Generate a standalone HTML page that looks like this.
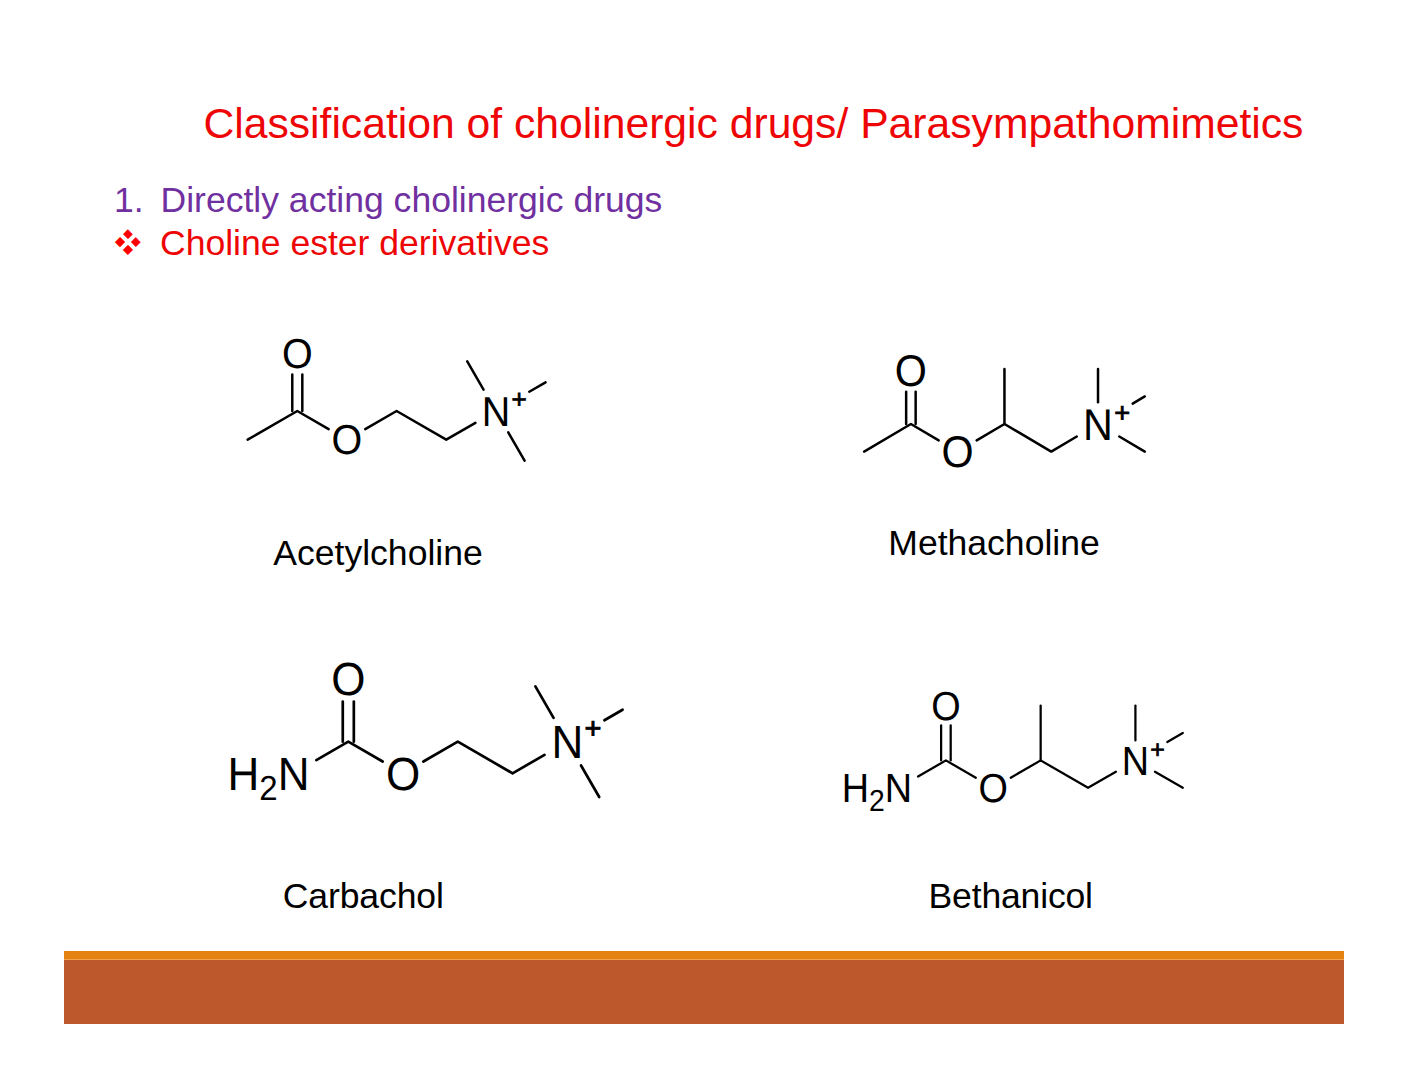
<!DOCTYPE html>
<html lang="en">
<head>
<meta charset="utf-8">
<title>Classification of cholinergic drugs/ Parasympathomimetics</title>
<style>
html,body{margin:0;padding:0;background:#fff;}
body{width:1408px;height:1088px;position:relative;overflow:hidden;font-family:"Liberation Sans",sans-serif;}
.slide{position:absolute;left:0;top:0;width:1408px;height:1088px;background:#fff;}
.t{position:absolute;white-space:pre;line-height:1;margin:0;font-weight:normal;}
.title{left:203.4px;top:102.3px;font-size:42.67px;color:#ee0505;}
.num{left:113.9px;top:183.3px;font-size:35.56px;color:#7030a0;}
.l1{left:160.5px;top:183.3px;font-size:35.56px;color:#7030a0;}
.l2{left:160px;top:226.2px;font-size:35.56px;color:#ee0505;}
.bul{left:111.9px;top:224.9px;font-size:35.3px;color:#f00;font-family:"DejaVu Sans",sans-serif;}
.cap{font-size:35.56px;color:#000;}
.gap{position:absolute;left:110.8px;top:239.7px;width:34px;height:4.2px;background:#fff;}
.gap.a{transform:rotate(45deg);}
.gap.b{transform:rotate(-45deg);}
.bar1{position:absolute;left:64px;top:951px;width:1280px;height:9px;background:#e48312;border-bottom:1px solid #f3a052;box-sizing:border-box;}
.bar2{position:absolute;left:64px;top:960px;width:1280px;height:64px;background:#bd582c;}
svg{position:absolute;left:0;top:0;}
svg text{font-family:"Liberation Sans",sans-serif;fill:#000;text-rendering:geometricPrecision;}
</style>
</head>
<body>
<div class="slide">
<h1 class="t title">Classification of cholinergic drugs/ Parasympathomimetics</h1>
<span class="t num">1.</span>
<p class="t l1">Directly acting cholinergic drugs</p>
<span class="t bul">&#10070;</span><i class="gap a"></i><i class="gap b"></i>
<p class="t l2">Choline ester derivatives</p>
<svg width="1408" height="1088" viewBox="0 0 1408 1088">
<g id="acetylcholine">
<g stroke="#000" stroke-width="2.5" stroke-linejoin="round" stroke-linecap="round" fill="none">
<path d="M247.65 439.67 L297.3 411 L328.64 429.1"/>
<path d="M292.28 411 L292.28 374.41"/>
<path d="M302.32 411 L302.32 374.41"/>
<path d="M365.26 429.1 L396.6 411 L446.25 439.67 L475.43 422.82"/>
<path d="M483.55 389.61 L467.23 361.35"/>
<path d="M529.26 391.74 L545.55 382.33"/>
<path d="M508.25 432.39 L524.57 460.65"/>
</g>
<text transform="translate(297.3 368.16) scale(1 1.06)" font-size="39.5" text-anchor="middle">O</text>
<text transform="translate(346.95 454.17) scale(1 1.06)" font-size="39.5" text-anchor="middle">O</text>
<text transform="translate(495.9 425.5) scale(1 1.06)" font-size="39.5" text-anchor="middle">N</text>
<text x="519.01" y="408.12" font-size="26.07" text-anchor="middle" stroke="#000" stroke-width="0.81" stroke-linejoin="miter">+</text>
</g>
<g id="methacholine">
<g stroke="#000" stroke-width="2.5" stroke-linejoin="round" stroke-linecap="round" fill="none">
<path d="M864.12 451.55 L910.9 424 L938.67 440.35"/>
<path d="M906.15 424 L906.15 391.65"/>
<path d="M915.65 424 L915.65 391.65"/>
<path d="M976.69 440.35 L1004.46 424 L1051.24 451.55 L1076.77 436.52"/>
<path d="M1004.46 424 L1004.46 368.9"/>
<path d="M1098.02 402.14 L1098.02 368.9"/>
<path d="M1132.69 403.58 L1144.8 396.45"/>
<path d="M1119.27 436.52 L1144.8 451.55"/>
</g>
<text transform="translate(910.9 385.77) scale(1 1.075)" font-size="41.3" text-anchor="middle">O</text>
<text transform="translate(957.68 467.32) scale(1 1.075)" font-size="41.3" text-anchor="middle">O</text>
<text transform="translate(1098.02 439.77) scale(1 1.075)" font-size="41.3" text-anchor="middle">N</text>
<text x="1122.18" y="421.98" font-size="27.26" text-anchor="middle" stroke="#000" stroke-width="0.85" stroke-linejoin="miter">+</text>
</g>
<g id="carbachol">
<g stroke="#000" stroke-width="2.7" stroke-linejoin="round" stroke-linecap="round" fill="none">
<path d="M316.32 760.16 L348.3 741.7 L382.68 761.54"/>
<path d="M342.77 741.7 L342.77 701.58"/>
<path d="M353.83 741.7 L353.83 701.58"/>
<path d="M423.42 761.54 L457.8 741.7 L512.55 773.3 L544.53 754.84"/>
<path d="M553.56 717.9 L535.38 686.41"/>
<path d="M604.44 720.26 L622.59 709.78"/>
<path d="M581.04 765.5 L599.22 796.99"/>
</g>
<text transform="translate(348.3 694.77) scale(1 1.055)" font-size="44" text-anchor="middle">O</text>
<text transform="translate(403.05 789.57) scale(1 1.055)" font-size="44" text-anchor="middle">O</text>
<text transform="translate(567.3 757.97) scale(1 1.055)" font-size="44" text-anchor="middle">N</text>
<text transform="translate(309.43 789.57) scale(1 1.055)" font-size="44" text-anchor="end">H<tspan font-size="33" dy="9.59">2</tspan><tspan dy="-9.59">N</tspan></text>
<text x="593.04" y="738.18" font-size="29.04" text-anchor="middle" stroke="#000" stroke-width="0.91" stroke-linejoin="miter">+</text>
</g>
<g id="bethanicol">
<g stroke="#000" stroke-width="2.25" stroke-linejoin="round" stroke-linecap="round" fill="none">
<path d="M918.05 776.51 L945.9 760.4 L975.81 777.7"/>
<path d="M941.11 760.4 L941.11 725.4"/>
<path d="M950.69 760.4 L950.69 725.4"/>
<path d="M1010.75 777.7 L1040.66 760.4 L1088.04 787.8 L1115.89 771.69"/>
<path d="M1040.66 760.4 L1040.66 705.6"/>
<path d="M1135.42 740.41 L1135.42 705.6"/>
<path d="M1167.29 741.97 L1182.8 733"/>
<path d="M1154.95 771.69 L1182.8 787.8"/>
</g>
<text transform="translate(945.9 720.18) scale(1 1.075)" font-size="37.8" text-anchor="middle">O</text>
<text transform="translate(993.28 802.38) scale(1 1.075)" font-size="37.8" text-anchor="middle">O</text>
<text transform="translate(1135.42 774.98) scale(1 1.075)" font-size="37.8" text-anchor="middle">N</text>
<text transform="translate(912.17 802.38) scale(1 1.075)" font-size="37.8" text-anchor="end">H<tspan font-size="28.35" dy="8.09">2</tspan><tspan dy="-8.09">N</tspan></text>
<text x="1157.53" y="758.14" font-size="24.95" text-anchor="middle" stroke="#000" stroke-width="0.78" stroke-linejoin="miter">+</text>
</g>
</svg>
<p class="t cap" style="left:273.3px;top:535.9px;">Acetylcholine</p>
<p class="t cap" style="left:888.3px;top:525.9px;">Methacholine</p>
<p class="t cap" style="left:282.8px;top:878.7px;letter-spacing:-0.12px;">Carbachol</p>
<p class="t cap" style="left:928.6px;top:878.7px;letter-spacing:-0.18px;">Bethanicol</p>
<div class="bar1"></div>
<div class="bar2"></div>
</div>
</body>
</html>
